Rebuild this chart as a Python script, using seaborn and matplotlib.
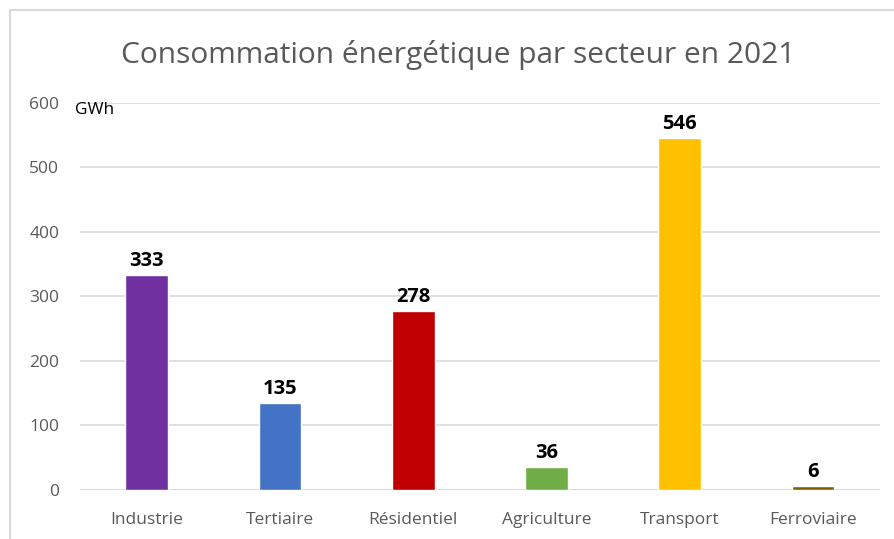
import matplotlib
matplotlib.use("Agg")
import matplotlib.pyplot as plt
import seaborn as sns
import pandas as pd
from matplotlib.patches import Rectangle

secteurs = ["Industrie", "Tertiaire", "Résidentiel", "Agriculture", "Transport", "Ferroviaire"]
conso_gwh = [333, 135, 278, 36, 546, 6]
couleurs = ["#7030A0", "#4472C4", "#C00000", "#70AD47", "#FFC000", "#7F6000"]

sns.set_theme(style="white")
plt.rcParams["font.family"] = ["Open Sans", "DejaVu Sans"]

df = pd.DataFrame({"secteur": secteurs, "gwh": conso_gwh})

fig = plt.figure(figsize=(8.94, 5.39), dpi=100)
ax = fig.add_axes([0.0895, 0.0909, 0.8945, 0.7181])

sns.barplot(data=df, x="secteur", y="gwh", hue="secteur", palette=couleurs,
            width=0.32, legend=False, ax=ax, saturation=1)

ax.set_ylim(0, 600)
ax.set_xlim(-0.5, 5.5)
ax.set_yticks(range(0, 601, 100))
ax.yaxis.grid(True, color="#D9D9D9", linewidth=1.2)
ax.set_axisbelow(True)
for s in ax.spines.values():
    s.set_visible(False)
ax.axhline(0, color="#D9D9D9", linewidth=1.2, zorder=0)
ax.set_xlabel("")
ax.set_ylabel("")
ax.tick_params(axis="y", length=0, labelsize=12.5, labelcolor="#595959", pad=15)
ax.tick_params(axis="x", length=0, labelsize=12.5, labelcolor="#595959", pad=16)

for cont in ax.containers:
    ax.bar_label(cont, fmt="%d", padding=3, fontsize=14.5, fontweight="bold", color="black")

fig.text(0.0835, 0.795, "GWh", fontsize=12.5, color="black", va="center", ha="left")
fig.text(0.512, 0.884, "Consommation énergétique par secteur en 2021",
         fontsize=21.5, color="#595959", ha="center", va="baseline")

# cadre du graphique
fig.patches.append(Rectangle((10 / 894, -0.1), 1.0, (539 - 10) / 539 + 0.1,
                             transform=fig.transFigure, fill=False,
                             edgecolor="#D9D9D9", linewidth=1.5))

fig.savefig("out.png", dpi=100)
